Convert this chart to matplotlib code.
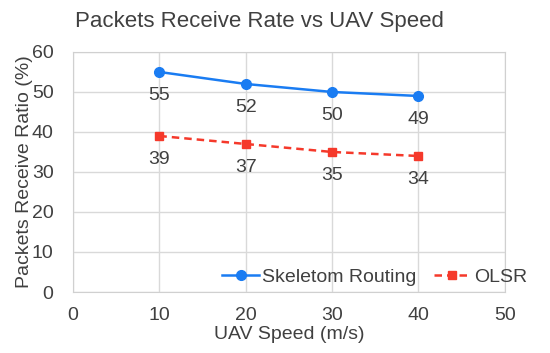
import matplotlib
matplotlib.use('Agg')
import matplotlib.pyplot as plt

speeds = [10, 20, 30, 40]
skeletom = [55, 52, 50, 49]
olsr = [39, 37, 35, 34]

plt.rcParams['font.family'] = ['Liberation Sans', 'DejaVu Sans']
txt = '#404040'

fig = plt.figure(figsize=(5.5, 3.53), dpi=100)
ax = fig.add_axes([0.1327, 0.1728, 0.785, 0.68])

ax.plot(speeds, skeletom, color='#1a7cf2', marker='o', markersize=7, linewidth=1.8,
        label='Skeletom Routing')
ax.plot(speeds, olsr, color='#f5392b', marker='s', markersize=6, linewidth=1.8,
        linestyle=(0, (3, 2)), label='OLSR')

# value labels under each point
for x, y in zip(speeds, skeletom):
    ax.annotate(str(y), (x, y), xytext=(0, -11), textcoords='offset points',
                ha='center', va='top', fontsize=14, color=txt)
for x, y in zip(speeds, olsr):
    ax.annotate(str(y), (x, y), xytext=(0, -11), textcoords='offset points',
                ha='center', va='top', fontsize=14, color=txt)

ax.set_xlim(0, 50)
ax.set_ylim(0, 60)
ax.set_xticks(range(0, 51, 10))
ax.set_yticks(range(0, 61, 10))
ax.grid(True, color='#d9d9d9', linewidth=1)
ax.set_axisbelow(True)
for s in ax.spines.values():
    s.set_color('#d0d0d0')
ax.tick_params(length=0, labelsize=14, colors=txt)
ax.tick_params(axis='x', pad=11)
ax.tick_params(axis='y', pad=14)

ax.set_xlabel('UAV Speed (m/s)', fontsize=14, color=txt, labelpad=1)
ax.set_ylabel('Packets Receive Ratio (%)', fontsize=14, color=txt, labelpad=-1)
fig.text(259 / 550, 1 - 22 / 353, 'Packets Receive Rate vs UAV Speed', fontsize=16,
         color=txt, ha='center', va='center')

ax.legend(loc='center right', bbox_to_anchor=(0.958, 0.215), bbox_transform=fig.transFigure,
          frameon=False, fontsize=14, handlelength=1.9, handletextpad=0.15,
          columnspacing=0.9, ncol=2, borderaxespad=0, borderpad=0, labelcolor=txt)

fig.savefig('out.png', dpi=100)
